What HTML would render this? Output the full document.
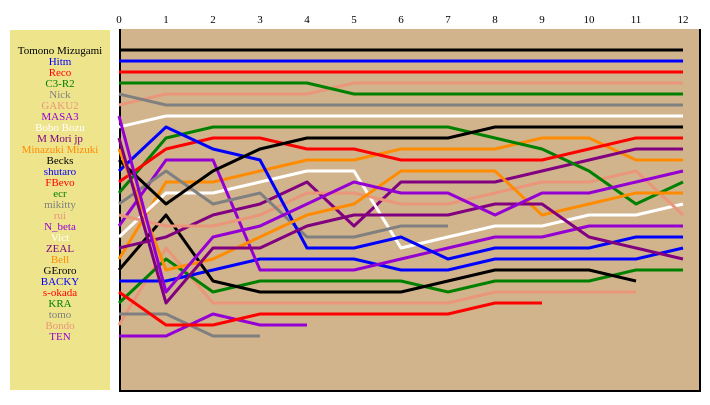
<!DOCTYPE html>
<html><head><meta charset="utf-8"><style>
body{margin:0;background:#fff;width:710px;height:400px;overflow:hidden;font-family:"Liberation Serif",serif}
</style></head><body>
<svg width="710" height="400" xmlns="http://www.w3.org/2000/svg">
<rect x="10" y="30" width="100" height="360" fill="#EEE48C"/>
<rect x="120" y="29" width="580" height="362" fill="#D2B48C"/>
<path d="M120 29 V391 H700 V29" fill="none" stroke="#000" stroke-width="2"/>
<g id="ticks"></g><g id="lines"></g><g id="legend"></g>
</svg>
<script>
const names=["Tomono Mizugami","Hitm","Reco","C3-R2","Nick","GAKU2","MASA3","Bobo Bozu","M Mori jp","Minazuki Mizuki","Becks","shutaro","FBevo","ecr","mikitty","rui","N_beta","Vict","ZEAL","Bell","GEroro","BACKY","s-okada","KRA","tomo","Bondo","TEN"];
const colors=["#000","#0000FF","#FF0000","#008000","#808080","#E9967A","#9400D3","#FFFFFF","#800080","#FF8C00","#000","#0000FF","#FF0000","#008000","#808080","#E9967A","#9400D3","#FFFFFF","#800080","#FF8C00","#000","#0000FF","#FF0000","#008000","#808080","#E9967A","#9400D3"];
const steps=[0,1,2,3,4,5,6,7,8,9,10,11,12];
const r1=[1,1,1,1,1,1,1,1,1,1,1,1,1];
const r2=[2,2,2,2,2,2,2,2,2,2,2,2,2];
const r3=[3,3,3,3,3,3,3,3,3,3,3,3,3];
const rC3=[4,4,4,4,4,5,5,5,5,5,5,5,5];
const rNick=[5,6,6,6,6,6,6,6,6,6,6,6,6];
const rGAKU=[6,5,5,5,5,4,4,4,4,4,4,4,4];
const rMASA=[7,23,18,17,15,13,14,14,16,14,14,13,12];
const rBobo=[8,7,7,7,7,7,7,7,7,7,7,7,7];
const rMori=[9,24,19,19,17,16,16,16,15,15,18,19,20];
const rMina=[10,21,20,18,16,15,12,12,12,16,15,14,14];
const rBecks=[11,15,12,10,9,9,9,9,8,8,8,8,8];
const rShu=[12,8,10,11,19,19,18,20,19,19,19,18,18];
const rFB=[13,10,9,9,10,10,11,11,11,11,10,9,9];
const rEcr=[14,9,8,8,8,8,8,8,9,10,12,15,13];
const rMik=[15,12,15,14,18,18,17,17];
const rRui=[16,17,17,16,14,14,15,15,14,13,13,12,16];
const rNb=[17,11,11,21,21,21,20,19,18,18,17,17,17];
const rVict=[18,14,14,13,12,12,19,18,17,17,16,16,15];
const rZeal=[19,18,16,15,13,17,13,13,13,12,11,10,10];
const rBell=[20,13,13,12,11,11,10,10,10,9,9,11,11];
const rGE=[21,16,22,23,23,23,23,22,21,21,21,22];
const rBacky=[22,22,21,20,20,20,21,21,20,20,20,20,19];
const rSok=[23,26,26,25,25,25,25,25,24,24];
const rKRA=[24,20,23,22,22,22,22,23,22,22,22,21,21];
const rTomo=[25,25,27,27];
const rBondo=[26,19,24,24,24,24,24,24,23,23,23,23];
const rTEN=[27,27,25,26,26];
const series=[r1,r2,r3,rC3,rNick,rGAKU,rMASA,rBobo,rMori,rMina,rBecks,rShu,rFB,rEcr,rMik,rRui,rNb,rVict,rZeal,rBell,rGE,rBacky,rSok,rKRA,rTomo,rBondo,rTEN];
const NS="http://www.w3.org/2000/svg";
const xS=s=>119+47*s;
const yS=r=>50+11*(r-1);
const ticks=document.getElementById('ticks');
steps.forEach(s=>{const t=document.createElementNS(NS,'text');
t.setAttribute('x',xS(s));t.setAttribute('y',23);t.setAttribute('text-anchor','middle');t.setAttribute('font-size','11');t.setAttribute('font-family','Liberation Serif, serif');


t.textContent=s;ticks.appendChild(t);});
const lines=document.getElementById('lines');
for(let i=series.length-1;i>=0;i--){const d=series[i].map((r,k)=>(k?'L':'M')+xS(k)+' '+yS(r)).join(' ');
const p=document.createElementNS(NS,'path');p.setAttribute('d',d);p.setAttribute('fill','none');p.setAttribute('stroke',colors[i]);p.setAttribute('stroke-width','3');p.setAttribute('stroke-linejoin','round');


lines.appendChild(p);}
const lg=document.getElementById('legend');
names.forEach((n,i)=>{const t=document.createElementNS(NS,'text');t.setAttribute('x',60);t.setAttribute('y',yS(i+1)+4);t.setAttribute('text-anchor','middle');t.setAttribute('font-size','11');t.setAttribute('fill',colors[i]);t.setAttribute('font-family','Liberation Serif, serif');


t.textContent=n;lg.appendChild(t);});
</script>
</body></html>
